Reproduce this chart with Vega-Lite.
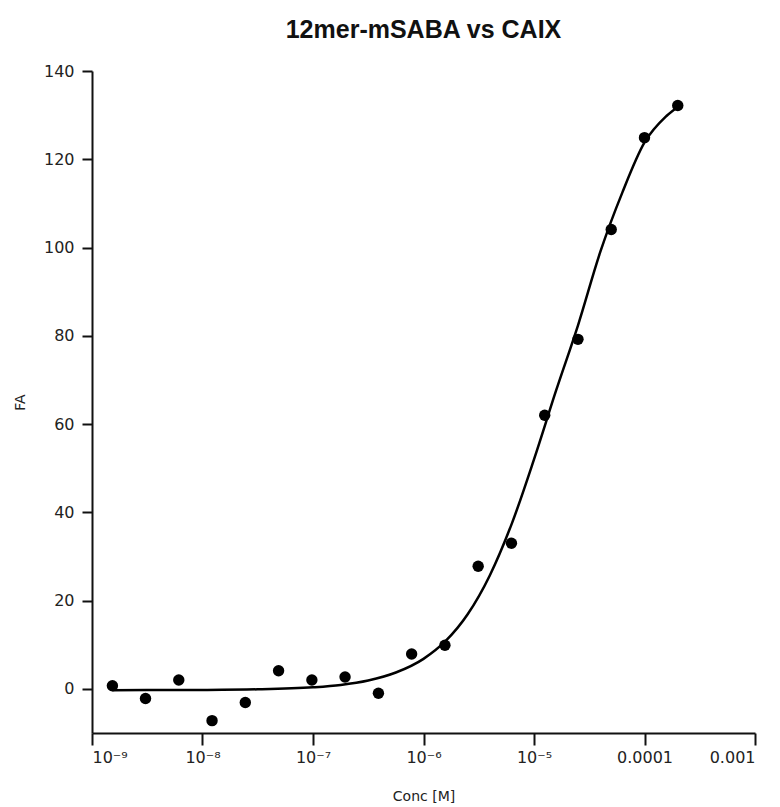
{
  "$schema": "https://vega.github.io/schema/vega-lite/v6.json",
  "width": 663,
  "height": 662,
  "autosize": {"type": "none"},
  "padding": {"left": 92, "top": 71, "right": 25, "bottom": 74},
  "background": "white",
  "config": {
    "view": {"stroke": null},
    "font": "Liberation Sans",
    "axis": {
      "grid": false,
      "domainColor": "#111",
      "domainWidth": 2,
      "tickColor": "#111",
      "tickWidth": 2,
      "labelFont": "DejaVu Sans",
      "labelFontSize": 16,
      "labelColor": "#222",
      "titleFont": "DejaVu Sans",
      "titleFontWeight": "normal",
      "titleColor": "#222"
    }
  },
  "title": {
    "text": "12mer-mSABA vs CAIX",
    "font": "Liberation Sans",
    "fontSize": 25,
    "fontWeight": "bold",
    "color": "#111",
    "anchor": "middle",
    "frame": "group",
    "baseline": "alphabetic",
    "offset": 0
  },
  "datasets": {
    "measured": [
      {"conc": 1.53e-9, "fa": 0.7},
      {"conc": 3.05e-9, "fa": -2.2},
      {"conc": 6.1e-9, "fa": 2.0},
      {"conc": 1.22e-8, "fa": -7.2},
      {"conc": 2.44e-8, "fa": -3.1},
      {"conc": 4.88e-8, "fa": 4.1},
      {"conc": 9.77e-8, "fa": 2.0},
      {"conc": 1.95e-7, "fa": 2.7},
      {"conc": 3.91e-7, "fa": -1.0},
      {"conc": 7.81e-7, "fa": 7.9},
      {"conc": 1.5625e-6, "fa": 9.9},
      {"conc": 3.125e-6, "fa": 27.8},
      {"conc": 6.25e-6, "fa": 33.0},
      {"conc": 1.25e-5, "fa": 62.0},
      {"conc": 2.5e-5, "fa": 79.2},
      {"conc": 5e-5, "fa": 104.1},
      {"conc": 1e-4, "fa": 124.9},
      {"conc": 2e-4, "fa": 132.2}
    ],
    "fit": [
      {"conc": 1.53e-9, "fa": -0.3},
      {"conc": 3.16e-9, "fa": -0.28},
      {"conc": 1e-8, "fa": -0.24},
      {"conc": 3.16e-8, "fa": -0.1},
      {"conc": 1e-7, "fa": 0.36},
      {"conc": 1.78e-7, "fa": 0.9},
      {"conc": 3.16e-7, "fa": 1.9},
      {"conc": 5.62e-7, "fa": 3.7},
      {"conc": 1e-6, "fa": 6.8},
      {"conc": 1.58e-6, "fa": 10.8},
      {"conc": 2.51e-6, "fa": 16.9},
      {"conc": 3.98e-6, "fa": 25.7},
      {"conc": 6.31e-6, "fa": 37.5},
      {"conc": 1e-5, "fa": 52.0},
      {"conc": 1.58e-5, "fa": 67.5},
      {"conc": 2.51e-5, "fa": 82.5},
      {"conc": 3.98e-5, "fa": 99.0},
      {"conc": 6.31e-5, "fa": 112.5},
      {"conc": 1e-4, "fa": 123.8},
      {"conc": 1.58e-4, "fa": 129.8},
      {"conc": 2.09e-4, "fa": 132.2}
    ]
  },
  "encoding": {
    "x": {
      "field": "conc",
      "type": "quantitative",
      "scale": {"type": "log", "domain": [1e-9, 1e-3], "nice": false},
      "axis": {
        "title": "Conc [M]",
        "titleFontSize": 14,
        "titlePadding": 24,
        "values": [1e-9, 1e-8, 1e-7, 1e-6, 1e-5, 1e-4, 1e-3],
        "tickSize": 12,
        "labelPadding": 4,
        "labelExpr": "datum.value > 5e-5 ? (datum.value > 5e-4 ? '0.001' : '0.0001') : '10⁻' + ['⁰','¹','²','³','⁴','⁵','⁶','⁷','⁸','⁹'][round(-log(datum.value) / LN10)]"
      }
    },
    "y": {
      "field": "fa",
      "type": "quantitative",
      "scale": {"domain": [-10, 140], "nice": false, "zero": false},
      "axis": {
        "title": "FA",
        "titleFontSize": 14,
        "values": [0, 20, 40, 60, 80, 100, 120, 140],
        "tickSize": 10,
        "labelPadding": 8,
        "titleX": -72,
        "titleY": 331,
        "titleAngle": -90,
        "titleAlign": "center",
        "titleBaseline": "middle"
      }
    }
  },
  "layer": [
    {
      "data": {"name": "fit"},
      "mark": {"type": "line", "color": "#000", "strokeWidth": 2.5, "interpolate": "monotone"}
    },
    {
      "data": {"name": "measured"},
      "mark": {"type": "point", "filled": true, "shape": "circle", "size": 130, "color": "#000", "opacity": 1}
    }
  ]
}
